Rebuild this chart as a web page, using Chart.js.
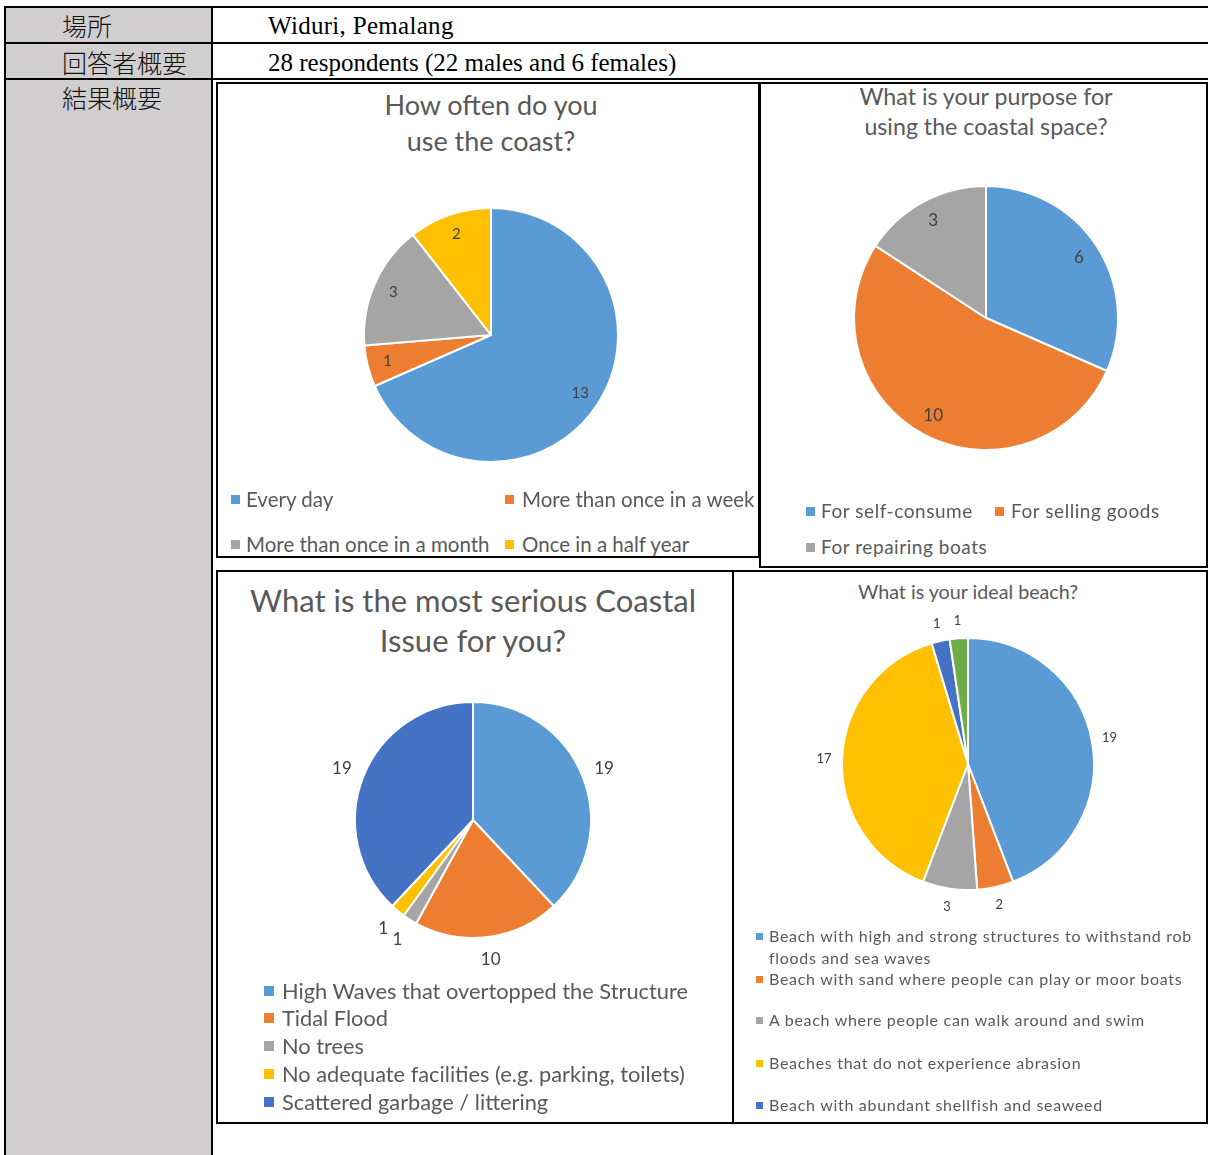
<!DOCTYPE html>
<html>
<head>
<meta charset="utf-8">
<script src="https://cdn.jsdelivr.net/npm/chart.js@4.4.1/dist/chart.umd.min.js"></script>
<style>
  html, body { margin: 0; padding: 0; background: #fff; }
  body { position: relative; width: 1208px; height: 1155px; overflow: hidden; font-family: Lato, "Open Sans", sans-serif; }
  .line { position: absolute; background: #000; }
  .cell-jp { position: absolute; font-family: "Noto Sans CJK JP", sans-serif; font-size: 25px; line-height: 28px; color: #111; font-weight: 300; }
  .cell-en { position: absolute; font-family: "Liberation Serif", "Times New Roman", serif; font-size: 25px; line-height: 28px; color: #000; }
  .panel { position: absolute; border: 2px solid #000; box-sizing: border-box; overflow: hidden; background: #fff; }
  .title { position: absolute; text-align: center; color: #595959; white-space: nowrap; }
  .leg { position: absolute; color: #595959; }
  .sw { position: absolute; }
  canvas { position: absolute; }
</style>
</head>
<body>
<div id="page"></div>
<script>
// ---- survey data: Widuri, Pemalang ----
const placeText = 'Widuri, Pemalang';
const respondentText = '28 respondents (22 males and 6 females)';
const rowHeads = ['場所', '回答者概要', '結果概要'];

const freqTitle = ['How often do you', 'use the coast?'];
const freqLabels = ['Every day', 'More than once in a week', 'More than once in a month', 'Once in a half year'];
const freqValues = [13, 1, 3, 2];

const purposeTitle = ['What is your purpose for', 'using the coastal space?'];
const purposeLabels = ['For self-consume', 'For selling goods', 'For repairing boats'];
const purposeValues = [6, 10, 3];

const issueTitle = ['What is the most serious Coastal', 'Issue for you?'];
const issueLabels = ['High Waves that overtopped the Structure', 'Tidal Flood', 'No trees',
                     'No adequate facilities (e.g. parking, toilets)', 'Scattered garbage / littering'];
const issueValues = [19, 10, 1, 1, 19];

const beachTitle = ['What is your ideal beach?'];
const beachLabels = ['Beach with high and strong structures to withstand rob floods and sea waves',
                     'Beach with sand where people can play or moor boats',
                     'A beach where people can walk around and swim',
                     'Beaches that do not experience abrasion',
                     'Beach with abundant shellfish and seaweed',
                     'Other'];
const beachValues = [19, 2, 3, 17, 1, 1];

// Office-style palette
const palette = ['#5B9BD5', '#ED7D31', '#A5A5A5', '#FFC000', '#4472C4', '#70AD47'];
const freqColors = palette.slice(0, 4);
const purposeColors = palette.slice(0, 3);
const issueColors = ['#5B9BD5', '#ED7D31', '#A5A5A5', '#FFC000', '#4472C4'];
const beachColors = palette.slice(0, 6);

// ---- table frame ----
const page = document.getElementById('page');
function el(cls, css, html) {
  const d = document.createElement('div');
  if (cls) d.className = cls;
  Object.assign(d.style, css);
  if (html !== undefined) d.innerHTML = html;
  return d;
}
function px(v) { return v + 'px'; }

page.appendChild(el('', { position: 'absolute', left: '6px', top: '8px', width: '205px', height: '1150px', background: '#D0CECE' }));
[[4, 6, 1204, 2], [4, 42, 1204, 2], [4, 78, 1204, 2]].forEach(([l, t, w, h]) =>
  page.appendChild(el('line', { left: px(l), top: px(t), width: px(w), height: px(h) })));
[[4, 6, 2, 1150], [211, 6, 2, 1150]].forEach(([l, t, w, h]) =>
  page.appendChild(el('line', { left: px(l), top: px(t), width: px(w), height: px(h) })));

[[62, 11], [62, 48], [62, 83]].forEach(([x, y], i) =>
  page.appendChild(el('cell-jp', { left: px(x), top: px(y) }, rowHeads[i])));
page.appendChild(el('cell-en', { left: '268px', top: '12px', letterSpacing: '0.3px' }, placeText));
page.appendChild(el('cell-en', { left: '268px', top: '49px' }, respondentText));

// ---- value labels drawn from each arc's geometry ----
const valueLabels = {
  id: 'valueLabels',
  afterDatasetsDraw(chart, args, opts) {
    const ctx = chart.ctx;
    const meta = chart.getDatasetMeta(0);
    const values = chart.data.datasets[0].data;
    ctx.save();
    ctx.font = opts.font;
    ctx.fillStyle = opts.color;
    ctx.textAlign = 'center';
    ctx.textBaseline = 'middle';
    meta.data.forEach((arc, i) => {
      const p = arc.getProps(['x', 'y', 'startAngle', 'endAngle', 'outerRadius'], true);
      const mid = (p.startAngle + p.endAngle) / 2;
      const d = opts.inside ? p.outerRadius * opts.factor : p.outerRadius + opts.offset;
      ctx.fillText(String(values[i]), p.x + Math.cos(mid) * d, p.y + Math.sin(mid) * d);
    });
    ctx.restore();
  }
};

// ---- panel layouts (page coordinates) ----
const panels = [
  {
    box: [216, 82, 544, 476], title: freqTitle, titleSize: 27, titleLH: 36, titleTop: 87, titleLS: 0,
    labels: freqLabels, values: freqValues, colors: freqColors,
    cx: 491, cy: 335, r: 127, canvas: 340,
    valueOpts: { inside: true, factor: 0.84, font: '15px Lato', color: '#404040' },
    legSize: 20.5, legLS: 0, legLH: 26, sw: 9, legWrap: 0,
    legPos: [[231, 499, 246], [505, 499, 522], [231, 544, 246], [505, 544, 522]]
  },
  {
    box: [759, 82, 449, 486], title: purposeTitle, titleSize: 23.2, titleLH: 30, titleTop: 81, titleLS: 0,
    labels: purposeLabels, values: purposeValues, colors: purposeColors,
    cx: 986, cy: 318, r: 132, canvas: 300,
    valueOpts: { inside: true, factor: 0.84, font: '17px Lato', color: '#404040' },
    legSize: 19, legLS: 0.55, legLH: 24, sw: 9, legWrap: 0,
    legPos: [[806, 511, 821], [995, 511, 1011], [806, 547, 821]]
  },
  {
    box: [216, 570, 518, 554], title: issueTitle, titleSize: 31, titleLH: 40, titleTop: 580, titleLS: 0,
    labels: issueLabels, values: issueValues, colors: issueColors,
    cx: 473, cy: 820, r: 118, canvas: 340,
    valueOpts: { inside: false, offset: 23, font: '17px Lato', color: '#404040' },
    legSize: 21.8, legLS: 0, legLH: 28, sw: 10, legWrap: 0,
    legPos: [[264, 991, 282], [264, 1018, 282], [264, 1046, 282], [264, 1074, 282], [264, 1102, 282]]
  },
  {
    box: [732, 570, 476, 554], title: beachTitle, titleSize: 19.7, titleLH: 24, titleTop: 580, titleLS: 0,
    labels: beachLabels, values: beachValues, colors: beachColors,
    cx: 968, cy: 764, r: 126, canvas: 340,
    valueOpts: { inside: false, offset: 18, font: '13px Lato', color: '#404040' },
    legSize: 16, legLS: 0.7, legLH: 22, sw: 7, legWrap: 428,
    legPos: [[756, 936, 769], [756, 979, 769], [756, 1020, 769], [756, 1063, 769], [756, 1105, 769], [756, 1147, 769]]
  }
];

panels.forEach(cfg => {
  const [bl, bt, bw, bh] = cfg.box;
  const ox = bl + 2, oy = bt + 2; // inner origin
  const panel = el('panel', { left: px(bl), top: px(bt), width: px(bw), height: px(bh) });
  page.appendChild(panel);

  // title
  panel.appendChild(el('title', {
    left: px(cfg.cx - 300 - ox), width: '600px', top: px(cfg.titleTop - oy),
    fontSize: px(cfg.titleSize), lineHeight: px(cfg.titleLH), letterSpacing: px(cfg.titleLS)
  }, cfg.title.join('<br>')));

  // pie
  const cv = document.createElement('canvas');
  cv.width = cfg.canvas; cv.height = cfg.canvas;
  cv.style.left = px(cfg.cx - cfg.canvas / 2 - ox);
  cv.style.top = px(cfg.cy - cfg.canvas / 2 - oy);
  panel.appendChild(cv);
  new Chart(cv, {
    type: 'pie',
    data: {
      labels: cfg.labels,
      datasets: [{ data: cfg.values, backgroundColor: cfg.colors, borderColor: '#ffffff', borderWidth: 2 }]
    },
    options: {
      responsive: false,
      animation: false,
      radius: cfg.r,
      layout: { padding: 0 },
      events: [],
      plugins: { legend: { display: false }, tooltip: { enabled: false }, valueLabels: cfg.valueOpts }
    },
    plugins: [valueLabels]
  });

  // legend
  cfg.labels.forEach((lab, i) => {
    const [sx, y, tx] = cfg.legPos[i];
    panel.appendChild(el('sw', {
      left: px(sx - ox), top: px(y - cfg.sw / 2 - oy), width: px(cfg.sw), height: px(cfg.sw), background: cfg.colors[i]
    }));
    panel.appendChild(el('leg', {
      left: px(tx - ox), top: px(y - cfg.legLH / 2 - oy), fontSize: px(cfg.legSize), lineHeight: px(cfg.legLH),
      letterSpacing: px(cfg.legLS),
      whiteSpace: cfg.legWrap ? 'normal' : 'nowrap', width: cfg.legWrap ? px(cfg.legWrap) : 'auto'
    }, lab));
  });
});
</script>
</body>
</html>
